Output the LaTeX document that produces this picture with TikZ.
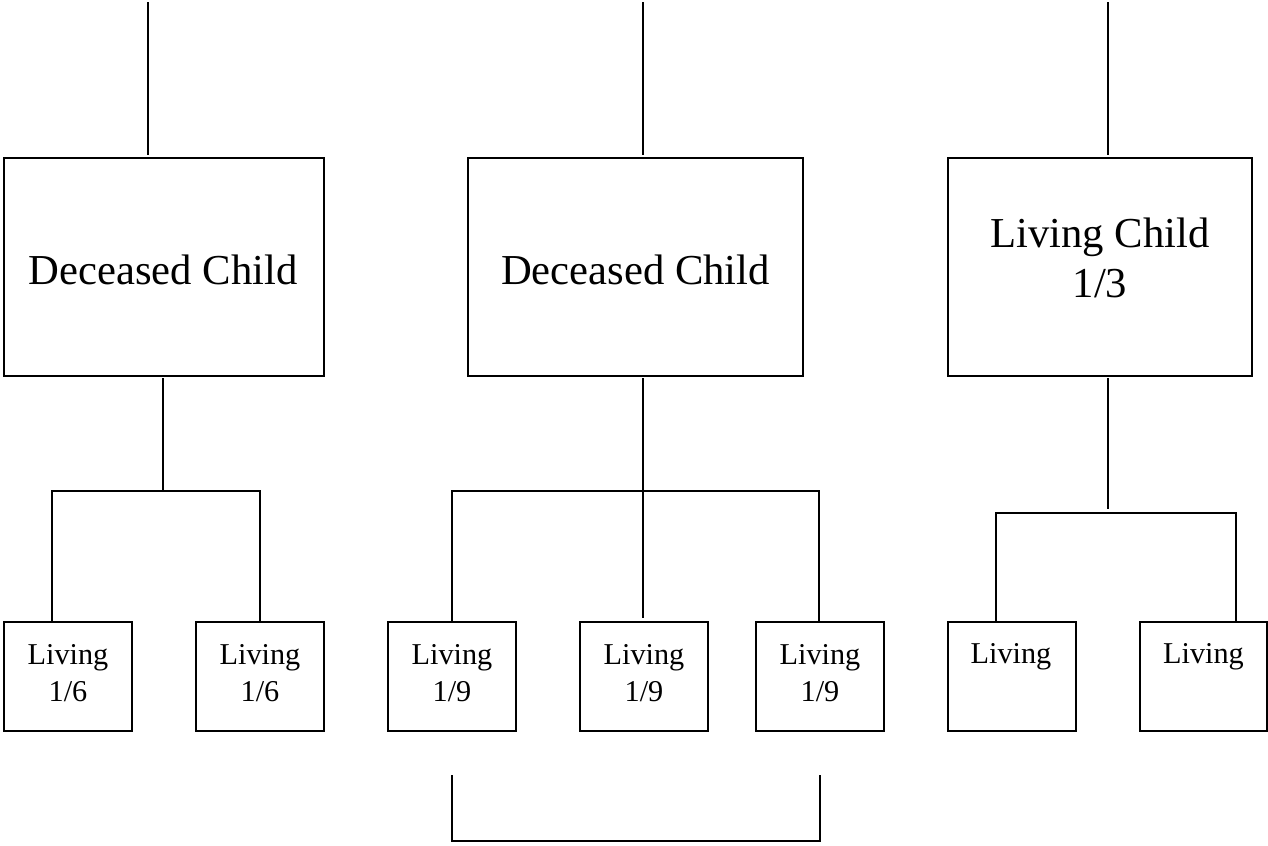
\documentclass[tikz,border=0pt]{standalone}
\usepackage{fontspec}
\setmainfont{Liberation Serif}
\begin{document}
\begin{tikzpicture}[x=0.75pt,y=-0.75pt,
  ln/.style={line width=1.5pt,line cap=rect},
  bx/.style={draw,line width=1.5pt,rectangle,inner sep=0pt,outer sep=0pt},
  bigtxt/.style={inner sep=0pt,anchor=base,font=\fontsize{32}{38}\selectfont},
  smtxt/.style={inner sep=0pt,anchor=base,font=\fontsize{22.7}{27}\selectfont}]
\useasboundingbox (0,0) rectangle (1268,846);
% big boxes
\node[bx,minimum width=320*0.75pt,minimum height=218*0.75pt] (B1) at (164,267) {};
\node[bx,minimum width=335*0.75pt,minimum height=218*0.75pt] (B2) at (635.5,267) {};
\node[bx,minimum width=304*0.75pt,minimum height=218*0.75pt] (B3) at (1100,267) {};
\node[bigtxt] (tb1) at (163,284) {Deceased Child};
\node[bigtxt] (tb2) at (635.5,284) {Deceased Child};
\node[bigtxt] (tb3a) at (1100,247) {Living Child};
\node[bigtxt] (tb3b) at (1100,297) {1/3};
% small boxes
\foreach \n/\cx/\w in {1/68/128,2/260/128,3/452/128,4/644/128,5/820/128,6/1012/128,7/1203.5/127}{
  \node[bx,minimum width=\w*0.75pt,minimum height=109*0.75pt] (S\n) at (\cx,676.5) {};
}
\foreach \n/\cx/\fr in {1/68/6,2/260/6,3/452/9,4/644/9,5/820/9}{
  \node[smtxt] (ta\n) at (\cx,664) {Living};
  \node[smtxt] (tf\n) at (\cx,701) {1/\fr};
}
\node[smtxt] (ta6) at (1011,663) {Living};
\node[smtxt] (ta7) at (1203.5,663) {Living};
% top lines
\coordinate (top1) at (148,3);
\coordinate (top2) at (643,3);
\coordinate (top3) at (1108,3);
\draw[ln,shorten >=3pt] (top1) -- (top1 |- B1.north);
\draw[ln,shorten >=3pt] (top2) -- (top2 |- B2.north);
\draw[ln,shorten >=3pt] (top3) -- (top3 |- B3.north);
% group 1
\coordinate (st1) at (163,489);
\coordinate (L1) at (52,491);
\coordinate (R1) at (260,491);
\draw[ln,shorten <=2pt] (st1 |- B1.south) -- (st1);
\draw[ln] (L1) -- (R1);
\draw[ln,shorten >=1pt] (L1) -- (L1 |- S1.north);
\draw[ln,shorten >=1pt] (R1) -- (R1 |- S2.north);
% group 2
\coordinate (st2) at (643,617);
\coordinate (L2) at (452,491);
\coordinate (R2) at (819,491);
\draw[ln,shorten <=2pt] (st2 |- B2.south) -- (st2);
\draw[ln] (L2) -- (R2);
\draw[ln,shorten >=1pt] (L2) -- (L2 |- S3.north);
\draw[ln,shorten >=1pt] (R2) -- (R2 |- S5.north);
% group 3
\coordinate (st3) at (1108,508);
\coordinate (L3) at (996,513);
\coordinate (R3) at (1236,513);
\draw[ln,shorten <=2pt] (st3 |- B3.south) -- (st3);
\draw[ln] (L3) -- (R3);
\draw[ln,shorten >=1pt] (L3) -- (L3 |- S6.north);
\draw[ln,shorten >=1pt] (R3) -- (R3 |- S7.north);
% bottom bracket
\coordinate (bl) at (452,776);
\coordinate (br) at (820,776);
\draw[ln] (bl) -- (bl |- 0,841) -- (br |- 0,841) -- (br);
\end{tikzpicture}
\end{document}
